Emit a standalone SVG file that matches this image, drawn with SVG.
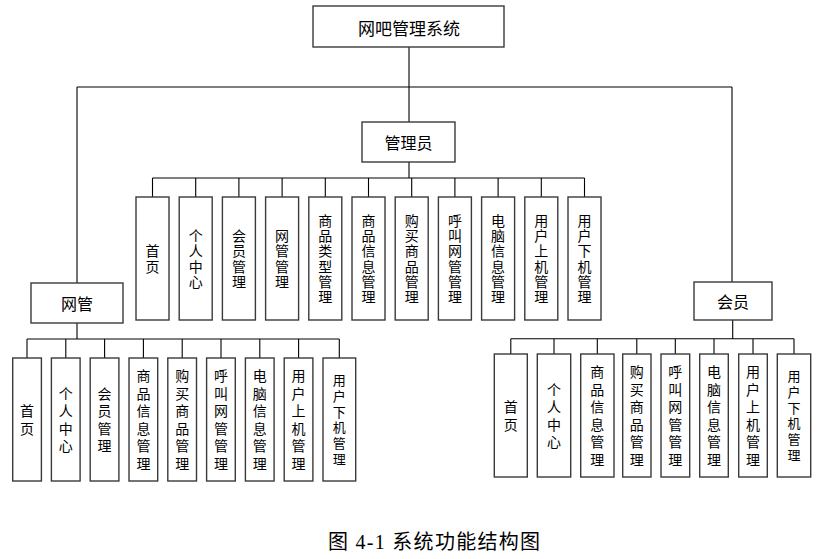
<svg xmlns="http://www.w3.org/2000/svg" width="826" height="559" viewBox="0 0 826 559">
<style>
.box{fill:#fff;stroke:#3a3a3a;stroke-width:1.4}
.t{font-family:"Noto Sans CJK SC","Noto Sans CJK JP",sans-serif;font-size:14px;fill:#000;text-anchor:middle;dominant-baseline:central}
.v{writing-mode:vertical-rl;glyph-orientation-vertical:0;letter-spacing:1.3px}
.vb{writing-mode:vertical-rl;glyph-orientation-vertical:0;letter-spacing:3.5px}
.vs{writing-mode:vertical-rl;glyph-orientation-vertical:0;font-size:13px;letter-spacing:2.7px}
.tl{font-size:16px}
.tt{font-size:17px}
.line{fill:none;stroke:#000;stroke-width:1.1}
.cap{font-family:"Liberation Serif","Noto Sans CJK SC",serif;font-size:20px;fill:#000;dominant-baseline:central}
</style>
<rect width="826" height="559" fill="#fff"/>
<g id="connectors">
<path class="line" d="M409 47V122M77 87H732M77 87V283M732 87V282"/>
<path class="line" d="M409 162V178M152.5 178H584.5M152.5 178V197M195.7 178V197M238.9 178V197M282.1 178V197M325.3 178V197M368.5 178V197M411.7 178V197M454.9 178V197M498.1 178V197M541.3 178V197M584.5 178V197"/>
<path class="line" d="M77 323V339M27 339H339.3M27 339V358M65.8 339V358M104.6 339V358M143.4 339V358M182.2 339V358M221 339V358M259.8 339V358M298.6 339V358M339.3 339V358"/>
<path class="line" d="M732.7 320V338.7M510.8 338.7H794M510.8 338.7V354M554 338.7V354M597.3 338.7V354M636.8 338.7V354M675.3 338.7V354M714 338.7V354M753 338.7V354M794 338.7V354"/>
</g>
<g id="root"><rect class="box" x="313" y="6" width="191" height="41"/><text class="t tt" x="409" y="27">网吧管理系统</text></g>
<g id="admin"><rect class="box" x="362" y="122" width="93" height="40"/><text class="t tl" x="408.5" y="142">管理员</text></g>
<g id="netadmin"><rect class="box" x="31" y="283" width="92" height="40"/><text class="t tl" x="77" y="303">网管</text></g>
<g id="member"><rect class="box" x="694" y="282" width="78" height="38"/><text class="t tl" x="733" y="301">会员</text></g>

<g id="a1"><rect class="box" x="136" y="197" width="33" height="123"/><text class="t v" x="152.5" y="259.2">首页</text></g>
<g id="a2"><rect class="box" x="179.2" y="197" width="33" height="123"/><text class="t v" x="195.7" y="259.2">个人中心</text></g>
<g id="a3"><rect class="box" x="222.4" y="197" width="33" height="123"/><text class="t v" x="238.9" y="259.2">会员管理</text></g>
<g id="a4"><rect class="box" x="265.6" y="197" width="33" height="123"/><text class="t v" x="282.1" y="259.2">网管管理</text></g>
<g id="a5"><rect class="box" x="308.8" y="197" width="33" height="123"/><text class="t v" x="325.3" y="259.2">商品类型管理</text></g>
<g id="a6"><rect class="box" x="352" y="197" width="33" height="123"/><text class="t v" x="368.5" y="259.2">商品信息管理</text></g>
<g id="a7"><rect class="box" x="395.2" y="197" width="33" height="123"/><text class="t v" x="411.7" y="259.2">购买商品管理</text></g>
<g id="a8"><rect class="box" x="438.4" y="197" width="33" height="123"/><text class="t v" x="454.9" y="259.2">呼叫网管管理</text></g>
<g id="a9"><rect class="box" x="481.6" y="197" width="33" height="123"/><text class="t v" x="498.1" y="259.2">电脑信息管理</text></g>
<g id="a10"><rect class="box" x="524.8" y="197" width="33" height="123"/><text class="t v" x="541.3" y="259.2">用户上机管理</text></g>
<g id="a11"><rect class="box" x="568" y="197" width="33" height="123"/><text class="t v" x="584.5" y="259.2">用户下机管理</text></g>

<g id="n1"><rect class="box" x="12.7" y="358" width="28.7" height="123"/><text class="t vb" x="27" y="421.2">首页</text></g>
<g id="n2"><rect class="box" x="51.4" y="358" width="28.7" height="123"/><text class="t vb" x="65.8" y="421.2">个人中心</text></g>
<g id="n3"><rect class="box" x="90.2" y="358" width="28.7" height="123"/><text class="t vb" x="104.6" y="421.2">会员管理</text></g>
<g id="n4"><rect class="box" x="129" y="358" width="28.7" height="123"/><text class="t vb" x="143.4" y="421.2">商品信息管理</text></g>
<g id="n5"><rect class="box" x="167.8" y="358" width="28.7" height="123"/><text class="t vb" x="182.2" y="421.2">购买商品管理</text></g>
<g id="n6"><rect class="box" x="206.6" y="358" width="28.7" height="123"/><text class="t vb" x="221" y="421.2">呼叫网管管理</text></g>
<g id="n7"><rect class="box" x="245.4" y="358" width="28.7" height="123"/><text class="t vb" x="259.8" y="421.2">电脑信息管理</text></g>
<g id="n8"><rect class="box" x="284.2" y="358" width="28.7" height="123"/><text class="t vb" x="298.6" y="421.2">用户上机管理</text></g>
<g id="n9"><rect class="box" x="323" y="358" width="32.7" height="123"/><text class="t vs" x="339.3" y="420.8">用户下机管理</text></g>

<g id="m1"><rect class="box" x="494.3" y="354" width="33" height="123"/><text class="t vb" x="510.8" y="417.2">首页</text></g>
<g id="m2"><rect class="box" x="537.3" y="354" width="33.4" height="123"/><text class="t vb" x="554" y="417.2">个人中心</text></g>
<g id="m3"><rect class="box" x="580.7" y="354" width="33.3" height="123"/><text class="t vb" x="597.3" y="417.2">商品信息管理</text></g>
<g id="m4"><rect class="box" x="622.7" y="354" width="28.3" height="123"/><text class="t vb" x="636.8" y="417.2">购买商品管理</text></g>
<g id="m5"><rect class="box" x="661" y="354" width="28.7" height="123"/><text class="t vb" x="675.3" y="417.2">呼叫网管管理</text></g>
<g id="m6"><rect class="box" x="699.7" y="354" width="28.6" height="123"/><text class="t vb" x="714" y="417.2">电脑信息管理</text></g>
<g id="m7"><rect class="box" x="738.7" y="354" width="28.6" height="123"/><text class="t vb" x="753" y="417.2">用户上机管理</text></g>
<g id="m8"><rect class="box" x="777.3" y="354" width="33.4" height="123"/><text class="t vs" x="794" y="416.8">用户下机管理</text></g>

<text class="cap" x="328" y="542" textLength="212" lengthAdjust="spacing">图 4-1 系统功能结构图</text>
</svg>
